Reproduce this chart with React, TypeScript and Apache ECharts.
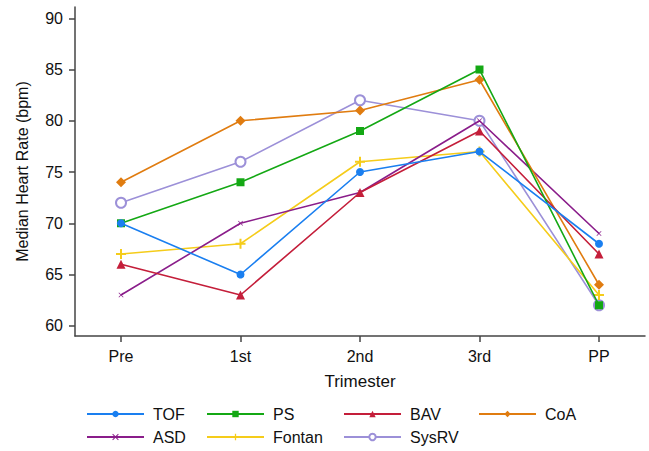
import React, { useEffect, useRef } from "react";
import * as echarts from "echarts";

const categories = ["Pre", "1st", "2nd", "3rd", "PP"];
const seriesNames = ["TOF", "PS", "BAV", "CoA", "ASD", "Fontan", "SysRV"];
const tof = [70, 65, 75, 77, 68];
const ps = [70, 74, 79, 85, 62];
const bav = [66, 63, 73, 79, 67];
const coa = [74, 80, 81, 84, 64];
const asd = [63, 70, 73, 80, 69];
const fontan = [67, 68, 76, 77, 63];
const sysrv = [72, 76, 82, 80, 62];
const yTicks = [60, 65, 70, 75, 80, 85, 90];

const colors = ["#1a7ff0", "#14a814", "#c41e3a", "#e07c10", "#8a1d8a", "#f5cc1a", "#9c90d8"];
const symbols = [
  "circle",
  "rect",
  "triangle",
  "diamond",
  "path://M0,1L1,0L5,4L9,0L10,1L6,5L10,9L9,10L5,6L1,10L0,9L4,5Z",
  "path://M4,0L6,0L6,4L10,4L10,6L6,6L6,10L4,10L4,6L0,6L0,4L4,4Z",
  "emptyCircle",
];
const symbolSizes = [8, 8, 9, 10, 5, 10, 10];
const dataSets = [tof, ps, bav, coa, asd, fontan, sysrv];

const legendPos = [
  { left: 86, top: 406 },
  { left: 206, top: 406 },
  { left: 343, top: 406 },
  { left: 478, top: 406 },
  { left: 86, top: 429 },
  { left: 206, top: 429 },
  { left: 343, top: 429 },
];

export default function App() {
  const ref = useRef<HTMLDivElement>(null);
  useEffect(() => {
    if (!ref.current) return;
    const chart = echarts.init(ref.current, null, { renderer: "svg" });
    const font = "Liberation Sans, Arial, sans-serif";
    chart.setOption({
      animation: false,
      backgroundColor: "#ffffff",
      textStyle: { fontFamily: font },
      grid: { left: 75, right: 4, top: 7, bottom: 115, containLabel: false },
      xAxis: {
        type: "value",
        min: -0.385,
        max: 4.385,
        name: "Trimester",
        nameLocation: "middle",
        nameGap: 37,
        nameTextStyle: { color: "#111", fontSize: 17, fontFamily: font },
        axisLine: { show: true, onZero: false, lineStyle: { color: "#444", width: 1.5 } },
        axisTick: { show: true, length: 6, lineStyle: { color: "#444", width: 1.5 }, customValues: [0, 1, 2, 3, 4] },
        axisLabel: {
          customValues: [0, 1, 2, 3, 4],
          formatter: (v: number) => categories[Math.round(v)] ?? "",
          color: "#111",
          fontSize: 16,
          margin: 12,
          fontFamily: font,
        },
        splitLine: { show: false },
      },
      yAxis: {
        type: "value",
        min: 59,
        max: 91.1,
        name: "Median Heart Rate (bpm)",
        nameLocation: "middle",
        nameGap: 45,
        nameTextStyle: { color: "#111", fontSize: 16, fontFamily: font },
        axisLine: { show: true, onZero: false, lineStyle: { color: "#444", width: 1.5 } },
        axisTick: { show: true, length: 6, lineStyle: { color: "#444", width: 1.5 }, customValues: yTicks },
        axisLabel: {
          customValues: yTicks,
          color: "#111",
          fontSize: 16,
          margin: 12,
          fontFamily: font,
        },
        splitLine: { show: false },
      },
      legend: seriesNames.map((n, i) => ({
        data: [n],
        left: legendPos[i].left,
        top: legendPos[i].top,
        itemWidth: 57,
        itemHeight: 8,
        padding: 0,
        textStyle: { fontSize: 16, color: "#111", fontFamily: font, padding: [0, 0, 0, 4] },
      })),
      series: seriesNames.map((n, i) => ({
        name: n,
        type: "line",
        data: dataSets[i].map((v, j) => [j, v]),
        color: colors[i],
        symbol: symbols[i],
        symbolSize: symbolSizes[i],
        showSymbol: true,
        lineStyle: { width: 1.6, color: colors[i] },
        itemStyle: { color: colors[i], borderColor: colors[i], borderWidth: i === 6 ? 1.5 : 0 },
        z: 10 - i,
      })),
    });
    return () => chart.dispose();
  }, []);
  return <div ref={ref} style={{ width: 649, height: 451, position: "absolute", left: 0, top: 0 }} />;
}
